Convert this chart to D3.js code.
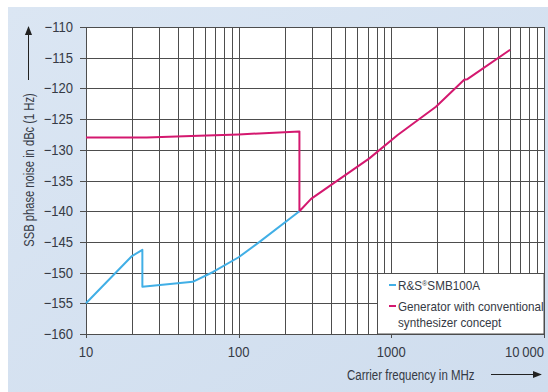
<!DOCTYPE html>
<html>
<head>
<meta charset="utf-8">
<script src="https://cdn.jsdelivr.net/npm/d3@7"></script>
<style>
  body { margin: 0; background: #fff; }
  text { font-family: "Liberation Sans", Arial, sans-serif; fill: #353a45; }
</style>
</head>
<body>
<div id="main"></div>
<script>
var width = 548;
var height = 392;

// R&S SMB100A
var smbFreq = [10, 20, 23.4, 23.4, 50, 68, 100, 137, 250];
var smbNoise = [-155, -147.3, -146.3, -152.3, -151.5, -149.9, -147.5, -145, -140];

// conventional synthesizer
var convFreq = [10, 25, 55, 100, 250, 250, 298, 718, 1100, 1960, 3000, 3150, 6000];
var convNoise = [-128, -128, -127.7, -127.5, -127, -140, -138, -131.4, -127.6, -123, -118.6, -118.5, -113.7];

var yTicks = [-160, -155, -150, -145, -140, -135, -130, -125, -120, -115, -110];
var xTicks = [10, 100, 1000, 10000];
var xLabels = ["10", "100", "1000", "10\u2009000"];
var legendNames = [["R&S\u00aeSMB100A"], ["Generator with conventional", "synthesizer concept"]];

var BLUE = "#41afe6";
var MAGENTA = "#d4186f";
var GRID = "#4d4d4d";

// narrow look: squeeze text horizontally
function place(x, y, k){ return "translate(" + x + "," + y + ") scale(" + k + ",1)"; }

var svg = d3.select("#main").append("svg")
  .attr("width", width)
  .attr("height", height);

var defs = svg.append("defs");
var grad = defs.append("linearGradient").attr("id", "bg")
  .attr("x1", 0).attr("y1", 0).attr("x2", 1).attr("y2", 1);
grad.append("stop").attr("offset", "0%").attr("stop-color", "#dbe6f3");
grad.append("stop").attr("offset", "100%").attr("stop-color", "#cfddee");

svg.append("rect").attr("x", 8).attr("y", 7)
  .attr("width", width - 8).attr("height", height - 7)
  .attr("fill", "url(#bg)");

var x = d3.scaleLog().domain([10, 10000]).range([86, 544]);
var y = d3.scaleLinear().domain([-160, -110]).range([334, 27]);

// plot area
svg.append("rect")
  .attr("x", x(10)).attr("y", y(-110))
  .attr("width", x(10000) - x(10)).attr("height", y(-160) - y(-110))
  .attr("fill", "#fff");

var grid = svg.append("g");
grid.selectAll(".vg")
  .data(x.ticks())
  .enter().append("line")
  .attr("x1", function(d){ return Math.round(x(d)) + 0.5; })
  .attr("x2", function(d){ return Math.round(x(d)) + 0.5; })
  .attr("y1", y(-110))
  .attr("y2", function(d){ return xTicks.indexOf(d) >= 0 ? y(-160) + 4 : y(-160); })
  .attr("stroke", GRID).attr("stroke-width", 1);

grid.selectAll(".hg")
  .data(yTicks)
  .enter().append("line")
  .attr("x1", x(10) - 6).attr("x2", x(10000))
  .attr("y1", function(d){ return Math.round(y(d)) + 0.5; })
  .attr("y2", function(d){ return Math.round(y(d)) + 0.5; })
  .attr("stroke", GRID).attr("stroke-width", 1);

// tick labels
svg.selectAll(".yl")
  .data(yTicks)
  .enter().append("text")
  .attr("transform", function(d){ return place(73, y(d) + 5, 0.9); })
  .attr("text-anchor", "end")
  .style("font-size", "14.5px")
  .text(function(d){ return "\u2212" + Math.abs(d); });

svg.selectAll(".xl")
  .data(xTicks)
  .enter().append("text")
  .attr("transform", function(d, i){ return place(x(d), 357, 0.9); })
  .attr("text-anchor", function(d, i){ return i == 3 ? "end" : "middle"; })
  .style("font-size", "14.5px")
  .text(function(d, i){ return xLabels[i]; });

// axis titles + arrows
defs.append("marker").attr("id", "arr")
  .attr("viewBox", "0 0 10 10").attr("refX", 9).attr("refY", 5)
  .attr("markerWidth", 9).attr("markerHeight", 9).attr("orient", "auto")
  .attr("markerUnits", "userSpaceOnUse")
  .append("path").attr("d", "M0,1 L10,5 L0,9 Z").attr("fill", "#222");

svg.append("text")
  .attr("transform", place(347, 380, 0.82))
  .style("font-size", "14px")
  .text("Carrier frequency in MHz");
svg.append("line")
  .attr("x1", 491).attr("x2", 541).attr("y1", 374.5).attr("y2", 374.5)
  .attr("stroke", "#222").attr("stroke-width", 1)
  .attr("marker-end", "url(#arr)");

svg.append("text")
  .attr("transform", "translate(34,170) rotate(-90) scale(0.8,1)")
  .attr("text-anchor", "middle")
  .style("font-size", "14px")
  .text("SSB phase noise in dBc (1 Hz)");
svg.append("line")
  .attr("x1", 28.5).attr("x2", 28.5).attr("y1", 80).attr("y2", 27)
  .attr("stroke", "#222").attr("stroke-width", 1)
  .attr("marker-end", "url(#arr)");

// curves
var line = d3.line()
  .x(function(d){ return x(d[0]); })
  .y(function(d){ return y(d[1]); });

var series = [
  { f: convFreq, v: convNoise, c: MAGENTA },
  { f: smbFreq, v: smbNoise, c: BLUE }
];
svg.selectAll(".curve")
  .data(series)
  .enter().append("path")
  .attr("d", function(s){ return line(s.f.map(function(f, i){ return [f, s.v[i]]; })); })
  .attr("fill", "none")
  .attr("stroke", function(s){ return s.c; })
  .attr("stroke-width", 2)
  .attr("stroke-linejoin", "round");

// legend
var lg = svg.append("g");
lg.append("rect")
  .attr("x", 377.5).attr("y", 273.5)
  .attr("width", x(10000) - 377.5).attr("height", y(-160) - 273.5)
  .attr("fill", "#fff").attr("stroke", GRID);
var items = lg.selectAll(".li")
  .data(legendNames)
  .enter().append("g")
  .attr("transform", function(d, i){ return "translate(0," + (i == 0 ? 285 : 306) + ")"; });
items.append("line")
  .attr("x1", 389).attr("x2", 396).attr("y1", 0).attr("y2", 0)
  .attr("stroke", function(d, i){ return i == 0 ? BLUE : MAGENTA; })
  .attr("stroke-width", 2);
var labels = items.selectAll("text")
  .data(function(d){ return d; })
  .enter().append("text")
  .attr("transform", function(d, j){ return place(398, 4.5 + j * 16, 0.9); })
  .style("font-size", "13px");
// small raised registered mark
labels.each(function(d){
  var parts = d.split("\u00ae");
  var t = d3.select(this);
  t.append("tspan").text(parts[0]);
  if (parts.length > 1) {
    t.append("tspan").attr("dy", -4).style("font-size", "8px").text("\u00ae");
    t.append("tspan").attr("dy", 4).text(parts[1]);
  }
});
</script>
</body>
</html>
